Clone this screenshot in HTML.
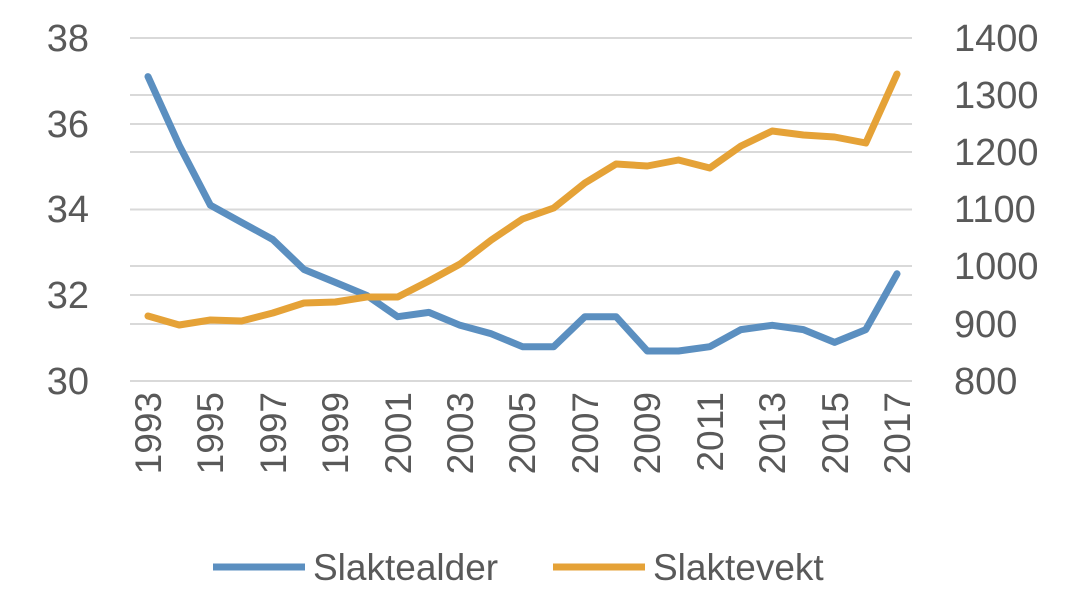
<!DOCTYPE html>
<html><head><meta charset="utf-8"><style>
html,body{margin:0;padding:0;background:#fff;}
svg{display:block;font-family:"Liberation Sans",sans-serif;}
</style></head><body>
<svg width="1080" height="600" viewBox="0 0 1080 600" xmlns="http://www.w3.org/2000/svg">
<g stroke="#d9d9d9" stroke-width="2">
<line x1="130" x2="912" y1="38" y2="38"/><line x1="130" x2="912" y1="95" y2="95"/>
<line x1="130" x2="912" y1="124" y2="124"/><line x1="130" x2="912" y1="152" y2="152"/>
<line x1="130" x2="912" y1="209.5" y2="209.5"/><line x1="130" x2="912" y1="266" y2="266"/>
<line x1="130" x2="912" y1="295" y2="295"/><line x1="130" x2="912" y1="324" y2="324"/>
<line x1="130" x2="912" y1="381" y2="381"/>
</g>
<g fill="#595959" font-size="38" text-anchor="end">
<text x="89" y="51">38</text><text x="89" y="137">36</text><text x="89" y="222">34</text><text x="89" y="308">32</text><text x="89" y="394">30</text>
</g>
<g fill="#595959" font-size="38" text-anchor="start">
<text x="954" y="51">1400</text><text x="954" y="108">1300</text><text x="954" y="165">1200</text><text x="954" y="222">1100</text><text x="954" y="279">1000</text><text x="954" y="337">900</text><text x="954" y="394">800</text>
</g>
<g fill="#595959" font-size="37" text-anchor="end">
<text transform="translate(161,392) rotate(-90)">1993</text>
<text transform="translate(223,392) rotate(-90)">1995</text>
<text transform="translate(286,392) rotate(-90)">1997</text>
<text transform="translate(348,392) rotate(-90)">1999</text>
<text transform="translate(411,392) rotate(-90)">2001</text>
<text transform="translate(473,392) rotate(-90)">2003</text>
<text transform="translate(535,392) rotate(-90)">2005</text>
<text transform="translate(598,392) rotate(-90)">2007</text>
<text transform="translate(660,392) rotate(-90)">2009</text>
<text transform="translate(723,392) rotate(-90)">2011</text>
<text transform="translate(785,392) rotate(-90)">2013</text>
<text transform="translate(848,392) rotate(-90)">2015</text>
<text transform="translate(910,392) rotate(-90)">2017</text>
</g>
<polyline fill="none" stroke="#5b8fc0" stroke-width="7" stroke-linejoin="round" stroke-linecap="round"
points="148,76.6 179.2,145.2 210.4,205.2 241.6,222.4 272.8,239.5 304,269.5 335.3,282.4 366.5,295.3 397.7,316.7 428.9,312.4 460.1,325.3 491.3,333.8 522.5,346.7 553.7,346.7 584.9,316.7 616.1,316.7 647.3,351 678.5,351 709.8,346.7 741,329.6 772.2,325.3 803.4,329.6 834.6,342.4 865.8,329.6 897,273.8"/>
<polyline fill="none" stroke="#e5a237" stroke-width="7" stroke-linejoin="round" stroke-linecap="round"
points="148,316 179.2,325 210.4,320 241.6,321 272.8,313 304,303 335.3,302 366.5,297 397.7,297 428.9,281 460.1,264 491.3,240 522.5,219 553.7,208 584.9,183 616.1,164 647.3,166 678.5,160 709.8,168 741,146 772.2,131 803.4,135 834.6,137 865.8,143 897,74"/>
<line x1="213" x2="305" y1="567" y2="567" stroke="#5b8fc0" stroke-width="7"/>
<text x="313" y="580" font-size="37" fill="#595959">Slaktealder</text>
<line x1="553" x2="645" y1="567" y2="567" stroke="#e5a237" stroke-width="7"/>
<text x="653" y="580" font-size="37" fill="#595959">Slaktevekt</text>
</svg>
</body></html>
